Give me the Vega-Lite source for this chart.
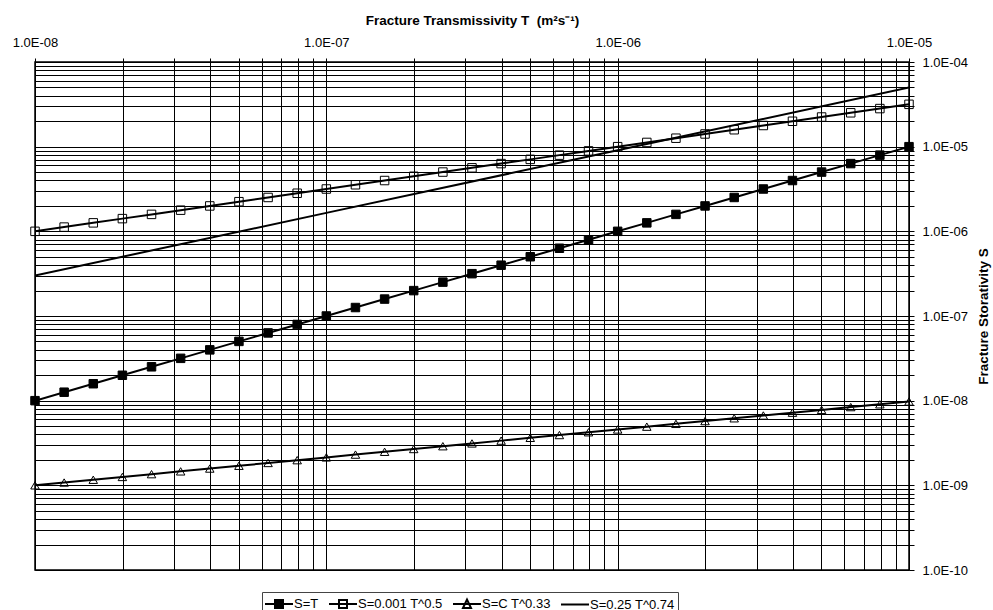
{
  "$schema": "https://vega.github.io/schema/vega-lite/v6.json",
  "width": 874,
  "height": 508,
  "autosize": {"type": "none"},
  "padding": {"left": 35, "top": 62, "right": 84, "bottom": 40},
  "background": "white",
  "config": {
    "font": "Liberation Sans",
    "view": {"stroke": "black", "strokeWidth": 1.5},
    "axis": {
      "domain": false,
      "grid": true,
      "gridColor": "black",
      "gridOpacity": 1,
      "gridWidth": 1,
      "tickColor": "black",
      "tickWidth": 1,
      "labelFont": "Liberation Sans",
      "labelFontSize": 13,
      "labelColor": "black",
      "titleFont": "Liberation Sans",
      "titleFontSize": 13.5,
      "titleFontWeight": "bold",
      "titleColor": "black"
    }
  },
  "data": {
    "values": [
      {"series": "S=T", "T": 1e-8, "S": 1e-8},
      {"series": "S=T", "T": 1.259e-8, "S": 1.259e-8},
      {"series": "S=T", "T": 1.585e-8, "S": 1.585e-8},
      {"series": "S=T", "T": 1.995e-8, "S": 1.995e-8},
      {"series": "S=T", "T": 2.512e-8, "S": 2.512e-8},
      {"series": "S=T", "T": 3.162e-8, "S": 3.162e-8},
      {"series": "S=T", "T": 3.981e-8, "S": 3.981e-8},
      {"series": "S=T", "T": 5.012e-8, "S": 5.012e-8},
      {"series": "S=T", "T": 6.31e-8, "S": 6.31e-8},
      {"series": "S=T", "T": 7.943e-8, "S": 7.943e-8},
      {"series": "S=T", "T": 1e-7, "S": 1e-7},
      {"series": "S=T", "T": 1.259e-7, "S": 1.259e-7},
      {"series": "S=T", "T": 1.585e-7, "S": 1.585e-7},
      {"series": "S=T", "T": 1.995e-7, "S": 1.995e-7},
      {"series": "S=T", "T": 2.512e-7, "S": 2.512e-7},
      {"series": "S=T", "T": 3.162e-7, "S": 3.162e-7},
      {"series": "S=T", "T": 3.981e-7, "S": 3.981e-7},
      {"series": "S=T", "T": 5.012e-7, "S": 5.012e-7},
      {"series": "S=T", "T": 6.31e-7, "S": 6.31e-7},
      {"series": "S=T", "T": 7.943e-7, "S": 7.943e-7},
      {"series": "S=T", "T": 1e-6, "S": 1e-6},
      {"series": "S=T", "T": 1.259e-6, "S": 1.259e-6},
      {"series": "S=T", "T": 1.585e-6, "S": 1.585e-6},
      {"series": "S=T", "T": 1.995e-6, "S": 1.995e-6},
      {"series": "S=T", "T": 2.512e-6, "S": 2.512e-6},
      {"series": "S=T", "T": 3.162e-6, "S": 3.162e-6},
      {"series": "S=T", "T": 3.981e-6, "S": 3.981e-6},
      {"series": "S=T", "T": 5.012e-6, "S": 5.012e-6},
      {"series": "S=T", "T": 6.31e-6, "S": 6.31e-6},
      {"series": "S=T", "T": 7.943e-6, "S": 7.943e-6},
      {"series": "S=T", "T": 1e-5, "S": 1e-5},

      {"series": "S=0.001 T^0.5", "T": 1e-8, "S": 1e-6},
      {"series": "S=0.001 T^0.5", "T": 1.259e-8, "S": 1.122e-6},
      {"series": "S=0.001 T^0.5", "T": 1.585e-8, "S": 1.259e-6},
      {"series": "S=0.001 T^0.5", "T": 1.995e-8, "S": 1.413e-6},
      {"series": "S=0.001 T^0.5", "T": 2.512e-8, "S": 1.585e-6},
      {"series": "S=0.001 T^0.5", "T": 3.162e-8, "S": 1.778e-6},
      {"series": "S=0.001 T^0.5", "T": 3.981e-8, "S": 1.995e-6},
      {"series": "S=0.001 T^0.5", "T": 5.012e-8, "S": 2.239e-6},
      {"series": "S=0.001 T^0.5", "T": 6.31e-8, "S": 2.512e-6},
      {"series": "S=0.001 T^0.5", "T": 7.943e-8, "S": 2.818e-6},
      {"series": "S=0.001 T^0.5", "T": 1e-7, "S": 3.162e-6},
      {"series": "S=0.001 T^0.5", "T": 1.259e-7, "S": 3.548e-6},
      {"series": "S=0.001 T^0.5", "T": 1.585e-7, "S": 3.981e-6},
      {"series": "S=0.001 T^0.5", "T": 1.995e-7, "S": 4.467e-6},
      {"series": "S=0.001 T^0.5", "T": 2.512e-7, "S": 5.012e-6},
      {"series": "S=0.001 T^0.5", "T": 3.162e-7, "S": 5.623e-6},
      {"series": "S=0.001 T^0.5", "T": 3.981e-7, "S": 6.31e-6},
      {"series": "S=0.001 T^0.5", "T": 5.012e-7, "S": 7.079e-6},
      {"series": "S=0.001 T^0.5", "T": 6.31e-7, "S": 7.943e-6},
      {"series": "S=0.001 T^0.5", "T": 7.943e-7, "S": 8.913e-6},
      {"series": "S=0.001 T^0.5", "T": 1e-6, "S": 1e-5},
      {"series": "S=0.001 T^0.5", "T": 1.259e-6, "S": 1.122e-5},
      {"series": "S=0.001 T^0.5", "T": 1.585e-6, "S": 1.259e-5},
      {"series": "S=0.001 T^0.5", "T": 1.995e-6, "S": 1.413e-5},
      {"series": "S=0.001 T^0.5", "T": 2.512e-6, "S": 1.585e-5},
      {"series": "S=0.001 T^0.5", "T": 3.162e-6, "S": 1.778e-5},
      {"series": "S=0.001 T^0.5", "T": 3.981e-6, "S": 1.995e-5},
      {"series": "S=0.001 T^0.5", "T": 5.012e-6, "S": 2.239e-5},
      {"series": "S=0.001 T^0.5", "T": 6.31e-6, "S": 2.512e-5},
      {"series": "S=0.001 T^0.5", "T": 7.943e-6, "S": 2.818e-5},
      {"series": "S=0.001 T^0.5", "T": 1e-5, "S": 3.162e-5},

      {"series": "S=C T^0.33", "T": 1e-8, "S": 1e-9},
      {"series": "S=C T^0.33", "T": 1.259e-8, "S": 1.079e-9},
      {"series": "S=C T^0.33", "T": 1.585e-8, "S": 1.164e-9},
      {"series": "S=C T^0.33", "T": 1.995e-8, "S": 1.256e-9},
      {"series": "S=C T^0.33", "T": 2.512e-8, "S": 1.355e-9},
      {"series": "S=C T^0.33", "T": 3.162e-8, "S": 1.462e-9},
      {"series": "S=C T^0.33", "T": 3.981e-8, "S": 1.578e-9},
      {"series": "S=C T^0.33", "T": 5.012e-8, "S": 1.702e-9},
      {"series": "S=C T^0.33", "T": 6.31e-8, "S": 1.837e-9},
      {"series": "S=C T^0.33", "T": 7.943e-8, "S": 1.982e-9},
      {"series": "S=C T^0.33", "T": 1e-7, "S": 2.138e-9},
      {"series": "S=C T^0.33", "T": 1.259e-7, "S": 2.307e-9},
      {"series": "S=C T^0.33", "T": 1.585e-7, "S": 2.489e-9},
      {"series": "S=C T^0.33", "T": 1.995e-7, "S": 2.685e-9},
      {"series": "S=C T^0.33", "T": 2.512e-7, "S": 2.897e-9},
      {"series": "S=C T^0.33", "T": 3.162e-7, "S": 3.126e-9},
      {"series": "S=C T^0.33", "T": 3.981e-7, "S": 3.373e-9},
      {"series": "S=C T^0.33", "T": 5.012e-7, "S": 3.639e-9},
      {"series": "S=C T^0.33", "T": 6.31e-7, "S": 3.926e-9},
      {"series": "S=C T^0.33", "T": 7.943e-7, "S": 4.236e-9},
      {"series": "S=C T^0.33", "T": 1e-6, "S": 4.571e-9},
      {"series": "S=C T^0.33", "T": 1.259e-6, "S": 4.932e-9},
      {"series": "S=C T^0.33", "T": 1.585e-6, "S": 5.321e-9},
      {"series": "S=C T^0.33", "T": 1.995e-6, "S": 5.741e-9},
      {"series": "S=C T^0.33", "T": 2.512e-6, "S": 6.194e-9},
      {"series": "S=C T^0.33", "T": 3.162e-6, "S": 6.683e-9},
      {"series": "S=C T^0.33", "T": 3.981e-6, "S": 7.211e-9},
      {"series": "S=C T^0.33", "T": 5.012e-6, "S": 7.78e-9},
      {"series": "S=C T^0.33", "T": 6.31e-6, "S": 8.395e-9},
      {"series": "S=C T^0.33", "T": 7.943e-6, "S": 9.057e-9},
      {"series": "S=C T^0.33", "T": 1e-5, "S": 9.772e-9},

      {"series": "S=0.25 T^0.74", "T": 1e-8, "S": 3.006e-7},
      {"series": "S=0.25 T^0.74", "T": 1e-7, "S": 1.651e-6},
      {"series": "S=0.25 T^0.74", "T": 1e-6, "S": 9.077e-6},
      {"series": "S=0.25 T^0.74", "T": 1e-5, "S": 4.988e-5}
    ]
  },
  "encoding": {
    "x": {
      "field": "T",
      "type": "quantitative",
      "scale": {"type": "log", "domain": [1e-8, 1e-5], "nice": false},
      "axis": {
        "orient": "top",
        "title": "Fracture Transmissivity T\u00a0 (m²s⁻¹)",
        "values": [1e-8, 2e-8, 3e-8, 4e-8, 5e-8, 6e-8, 7e-8, 8e-8, 9e-8, 1e-7, 2e-7, 3e-7, 4e-7, 5e-7, 6e-7, 7e-7, 8e-7, 9e-7, 1e-6, 2e-6, 3e-6, 4e-6, 5e-6, 6e-6, 7e-6, 8e-6, 9e-6, 1e-5],
        "labelExpr": "abs(log(datum.value)/LN10 - round(log(datum.value)/LN10)) < 0.01 ? '1.0E-' + (round(-log(datum.value)/LN10) < 10 ? '0' : '') + round(-log(datum.value)/LN10) : ''",
        "labelOverlap": false,
        "labelFlush": false,
        "labelBound": false,
        "tickSize": 4,
        "labelPadding": 9,
        "titlePadding": 9,
        "encode": {"ticks": {"update": {"opacity": {"signal": "abs(log(datum.value)/LN10 - round(log(datum.value)/LN10)) < 0.01 ? 1 : 0"}}}}
      }
    },
    "y": {
      "field": "S",
      "type": "quantitative",
      "scale": {"type": "log", "domain": [1e-10, 1e-4], "nice": false},
      "axis": {
        "orient": "right",
        "title": "Fracture Storativity S",
        "values": [1e-10, 2e-10, 3e-10, 4e-10, 5e-10, 6e-10, 7e-10, 8e-10, 9e-10, 1e-9, 2e-9, 3e-9, 4e-9, 5e-9, 6e-9, 7e-9, 8e-9, 9e-9, 1e-8, 2e-8, 3e-8, 4e-8, 5e-8, 6e-8, 7e-8, 8e-8, 9e-8, 1e-7, 2e-7, 3e-7, 4e-7, 5e-7, 6e-7, 7e-7, 8e-7, 9e-7, 1e-6, 2e-6, 3e-6, 4e-6, 5e-6, 6e-6, 7e-6, 8e-6, 9e-6, 1e-5, 2e-5, 3e-5, 4e-5, 5e-5, 6e-5, 7e-5, 8e-5, 9e-5, 1e-4],
        "labelExpr": "abs(log(datum.value)/LN10 - round(log(datum.value)/LN10)) < 0.01 ? '1.0E-' + (round(-log(datum.value)/LN10) < 10 ? '0' : '') + round(-log(datum.value)/LN10) : ''",
        "labelOverlap": false,
        "labelFlush": false,
        "labelBound": false,
        "tickSize": 5,
        "labelPadding": 8,
        "titleAngle": 270,
        "titleX": 74,
        "titleY": 254,
        "titleAlign": "center",
        "titleBaseline": "middle",
        "encode": {"ticks": {"update": {"opacity": {"signal": "abs(log(datum.value)/LN10 - round(log(datum.value)/LN10)) < 0.01 ? 1 : 0"}}}}
      }
    }
  },
  "layer": [
    {
      "mark": {"type": "line", "strokeWidth": 2, "clip": true},
      "encoding": {
        "color": {
          "field": "series",
          "type": "nominal",
          "scale": {"domain": ["S=T", "S=0.001 T^0.5", "S=C T^0.33", "S=0.25 T^0.74"], "range": ["black", "black", "black", "black"]},
          "legend": {
            "title": null,
            "orient": "none",
            "legendX": 227,
            "legendY": 530,
            "direction": "horizontal",
            "padding": 3,
            "strokeColor": "#444444",
            "fillColor": "white",
            "labelFont": "Liberation Sans",
            "labelFontSize": 13,
            "labelColor": "black",
            "columnPadding": 6,
            "symbolSize": 256,
            "symbolOffset": 0,
            "labelOffset": 11,
            "encode": {
              "symbols": {
                "update": {
                  "shape": {"signal": "datum.value == 'S=C T^0.33' ? 'M-1.125,0H2.375M0.125,0.5L0.625,-0.55L1.125,0.5Z' : datum.value == 'S=0.25 T^0.74' ? 'M-1.125,0H2.375' : 'M-1.125,0H2.375M0.125,-0.5H1.125V0.5H0.125Z'"},
                  "fill": {"signal": "datum.value == 'S=T' ? 'black' : 'white'"},
                  "stroke": {"value": "black"},
                  "strokeWidth": {"value": 2}
                }
              }
            }
          }
        }
      }
    },
    {
      "transform": [{"filter": "datum.series != 'S=0.25 T^0.74'"}],
      "mark": {"type": "point", "size": 72, "strokeWidth": 1, "stroke": "black", "opacity": 1},
      "encoding": {
        "shape": {
          "field": "series",
          "type": "nominal",
          "scale": {"domain": ["S=T", "S=0.001 T^0.5", "S=C T^0.33"], "range": ["square", "square", "triangle-up"]},
          "legend": null
        },
        "fill": {
          "field": "series",
          "type": "nominal",
          "scale": {"domain": ["S=T", "S=0.001 T^0.5", "S=C T^0.33"], "range": ["black", "transparent", "transparent"]},
          "legend": null
        }
      }
    }
  ]
}
